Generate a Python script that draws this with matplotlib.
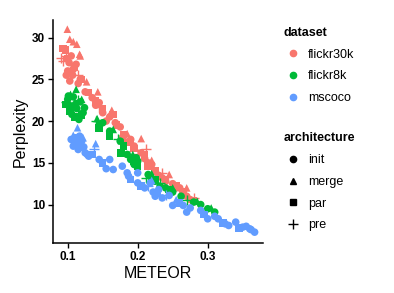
import matplotlib
matplotlib.use("Agg")
import matplotlib.pyplot as plt
from matplotlib.lines import Line2D

plt.rcParams['font.family'] = ['Liberation Sans', 'DejaVu Sans']

datasets = ["flickr30k", "flickr8k", "mscoco"]
architectures = ["init", "merge", "par", "pre"]
colors = {"flickr30k": "#F8766D", "flickr8k": "#00BA38", "mscoco": "#619CFF"}
markers = {"init": "o", "merge": "^", "par": "s", "pre": "+"}

# flickr30k
f30_init_x = [0.100, 0.098, 0.103, 0.107, 0.112, 0.105, 0.115, 0.125, 0.135, 0.140, 0.150, 0.155, 0.160, 0.175, 0.178, 0.185, 0.195, 0.205, 0.210, 0.220, 0.230, 0.240, 0.250, 0.260, 0.270, 0.275,
              0.102, 0.108, 0.118, 0.145, 0.168, 0.190, 0.215, 0.235, 0.255, 0.265]
f30_init_y = [26.0, 25.5, 24.8, 25.5, 26.8, 27.8, 24.5, 23.5, 22.8, 21.9, 21.0, 20.0, 20.5, 19.3, 18.0, 17.5, 17.0, 16.2, 15.5, 14.8, 13.5, 12.8, 12.5, 12.0, 11.0, 10.6,
              27.0, 26.2, 25.0, 22.2, 19.8, 17.8, 15.0, 13.2, 12.0, 11.4]
f30_merge_x = [0.0995, 0.103, 0.108, 0.117, 0.113, 0.118, 0.127, 0.143, 0.163, 0.185, 0.205, 0.220, 0.245, 0.270]
f30_merge_y = [31.0, 29.8, 29.5, 28.0, 29.2, 27.8, 24.7, 23.5, 21.3, 18.5, 17.9, 15.3, 13.6, 12.0]
f30_par_x = [0.093, 0.097, 0.100, 0.110, 0.120, 0.130, 0.140, 0.150, 0.165, 0.170, 0.180, 0.190, 0.195, 0.210, 0.215, 0.225, 0.240, 0.255, 0.265, 0.280]
f30_par_y = [28.7, 28.5, 27.5, 26.5, 25.0, 23.4, 22.4, 21.5, 20.8, 19.5, 18.4, 17.5, 16.7, 16.0, 14.6, 14.0, 13.0, 12.3, 11.5, 10.5]
f30_pre_x = [0.090, 0.093, 0.097, 0.103, 0.115, 0.145, 0.200, 0.212, 0.235, 0.280]
f30_pre_y = [27.6, 27.2, 27.8, 26.0, 25.5, 21.7, 16.0, 16.6, 13.8, 10.8]

# flickr8k
f8_init_x = [0.100, 0.104, 0.108, 0.113, 0.118, 0.122, 0.145, 0.160, 0.175, 0.190, 0.195, 0.198, 0.215, 0.225, 0.232, 0.250, 0.262, 0.280, 0.300, 0.310,
             0.101, 0.106, 0.111, 0.116, 0.124, 0.150, 0.185, 0.200, 0.220, 0.240, 0.290]
f8_init_y = [22.6, 21.8, 22.9, 21.5, 22.3, 21.0, 19.5, 18.8, 17.6, 15.4, 14.8, 15.6, 13.6, 12.8, 12.2, 11.5, 11.0, 10.3, 9.5, 9.1,
             23.0, 20.8, 22.0, 20.2, 21.6, 19.8, 16.0, 15.2, 13.0, 12.0, 10.0]
f8_merge_x = [0.104, 0.112, 0.120, 0.142, 0.165, 0.193, 0.220, 0.250, 0.285, 0.305]
f8_merge_y = [23.2, 23.8, 22.6, 20.3, 19.0, 16.0, 13.7, 12.0, 10.4, 9.6]
f8_par_x = [0.098, 0.103, 0.110, 0.120, 0.145, 0.160, 0.176, 0.180, 0.195, 0.200, 0.225, 0.245]
f8_par_y = [22.0, 21.2, 20.5, 20.7, 19.2, 18.2, 16.2, 17.0, 15.2, 14.6, 13.0, 11.8]
f8_pre_x = [0.097, 0.107, 0.115, 0.140, 0.172, 0.188, 0.212, 0.232, 0.270]
f8_pre_y = [22.3, 21.5, 22.5, 20.0, 17.8, 15.8, 13.2, 12.6, 10.5]

# mscoco
coco_init_x = [0.105, 0.110, 0.115, 0.120, 0.125, 0.130, 0.145, 0.160, 0.165, 0.178, 0.187, 0.200, 0.200, 0.218, 0.225, 0.230, 0.245, 0.250, 0.265, 0.270, 0.290, 0.300, 0.315, 0.330, 0.340, 0.350, 0.360, 0.367,
               0.108, 0.117, 0.123, 0.128, 0.155, 0.185, 0.210, 0.222, 0.235, 0.275, 0.310, 0.325, 0.355, 0.362]
coco_init_y = [17.8, 17.2, 16.6, 17.6, 16.2, 15.8, 15.4, 15.4, 14.2, 14.6, 13.4, 12.6, 13.8, 12.6, 11.0, 11.8, 11.1, 9.9, 9.9, 9.1, 9.3, 8.3, 8.3, 7.5, 7.9, 7.3, 7.1, 6.7,
               17.0, 18.2, 16.9, 16.0, 14.3, 13.8, 12.0, 11.5, 10.8, 9.6, 8.6, 7.7, 7.4, 7.0]
coco_merge_x = [0.114, 0.108, 0.122, 0.140, 0.220, 0.255]
coco_merge_y = [19.2, 18.3, 18.0, 17.3, 12.9, 10.6]
coco_par_x = [0.112, 0.118, 0.135, 0.150, 0.190, 0.205, 0.228, 0.260, 0.295, 0.322, 0.345]
coco_par_y = [18.0, 16.9, 16.0, 15.0, 13.0, 12.2, 11.4, 10.2, 8.8, 7.8, 7.2]
coco_pre_x = [0.110, 0.138, 0.215, 0.240]
coco_pre_y = [17.5, 16.6, 12.2, 11.2]

data = {
    ("flickr30k", "init"): (f30_init_x, f30_init_y),
    ("flickr30k", "merge"): (f30_merge_x, f30_merge_y),
    ("flickr30k", "par"): (f30_par_x, f30_par_y),
    ("flickr30k", "pre"): (f30_pre_x, f30_pre_y),
    ("flickr8k", "init"): (f8_init_x, f8_init_y),
    ("flickr8k", "merge"): (f8_merge_x, f8_merge_y),
    ("flickr8k", "par"): (f8_par_x, f8_par_y),
    ("flickr8k", "pre"): (f8_pre_x, f8_pre_y),
    ("mscoco", "init"): (coco_init_x, coco_init_y),
    ("mscoco", "merge"): (coco_merge_x, coco_merge_y),
    ("mscoco", "par"): (coco_par_x, coco_par_y),
    ("mscoco", "pre"): (coco_pre_x, coco_pre_y),
}

x_ticks = [0.1, 0.2, 0.3]
y_ticks = [10, 15, 20, 25, 30]

fig = plt.figure(figsize=(3.94, 2.93), dpi=100)
ax = fig.add_axes([0.1345, 0.1706, 0.533, 0.7611])

for (ds, ar), (xs, ys) in data.items():
    if ar == "pre":
        ax.scatter(xs, ys, marker="+", s=50, linewidths=1.0, color=colors[ds], zorder=3)
    else:
        ax.scatter(xs, ys, marker=markers[ar], s=30, color=colors[ds], edgecolors="none", zorder=3)

ax.set_xlim(0.079, 0.379)
ax.set_ylim(5.4, 32.1)
ax.set_xticks(x_ticks)
ax.set_xticklabels([str(t) for t in x_ticks])
ax.set_yticks(y_ticks)
for sp in ["top", "right"]:
    ax.spines[sp].set_visible(False)
for sp in ["left", "bottom"]:
    ax.spines[sp].set_linewidth(1.1)
ax.tick_params(axis="both", direction="out", length=3.6, width=1.0, labelsize=8.5, colors="black")
ax.tick_params(axis="x", pad=2.5)
ax.tick_params(axis="y", pad=2)
for lab in ax.get_xticklabels() + ax.get_yticklabels():
    lab.set_fontweight("bold")
ax.set_xlabel("METEOR", fontsize=11.5, labelpad=2)
ax.set_ylabel("Perplexity", fontsize=11.5, labelpad=3)

h1 = [Line2D([], [], marker="o", linestyle="none", color=colors[d], markersize=4.5, label=d) for d in datasets]
h2 = [Line2D([], [], marker=markers[a], linestyle="none", color="black", markersize=4.5 if a != "pre" else 7, label=a) for a in architectures]
common = dict(loc="upper left", frameon=False, fontsize=9, title_fontsize=9, handlelength=1.6,
              handletextpad=0.4, labelspacing=0.78, borderaxespad=0, borderpad=0.4)
leg1 = fig.legend(handles=h1, title="dataset", bbox_to_anchor=(0.706, 0.925), **common)
leg1.get_title().set_fontweight("bold")
leg1._legend_box.align = "left"
leg2 = fig.legend(handles=h2, title="architecture", bbox_to_anchor=(0.706, 0.565), **common)
leg2.get_title().set_fontweight("bold")
leg2._legend_box.align = "left"

fig.savefig("out.png", dpi=100)
